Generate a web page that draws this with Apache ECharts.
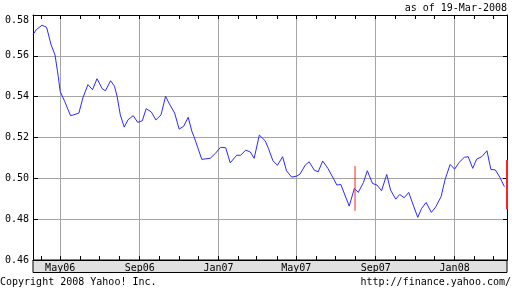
<!DOCTYPE html>
<html>
<head>
<meta charset="utf-8">
<style>html,body{margin:0;padding:0;background:#fff;}#c{width:512px;height:288px;}</style>
<script src="https://cdn.jsdelivr.net/npm/echarts@6/dist/echarts.min.js"></script>
</head>
<body>
<div id="c"></div>
<script>
const dates = ['2006-03-20','2006-03-25','2006-04-03','2006-04-10','2006-04-17','2006-04-23','2006-04-28','2006-05-01','2006-05-08','2006-05-17','2006-05-22','2006-05-30','2006-06-05','2006-06-13','2006-06-20','2006-06-27','2006-07-05','2006-07-10','2006-07-18','2006-07-24','2006-07-28','2006-08-02','2006-08-08','2006-08-14','2006-08-22','2006-08-29','2006-09-05','2006-09-11','2006-09-19','2006-09-26','2006-10-04','2006-10-11','2006-10-17','2006-10-25','2006-11-01','2006-11-08','2006-11-15','2006-11-21','2006-11-24','2006-12-06','2006-12-19','2006-12-27','2007-01-04','2007-01-12','2007-01-19','2007-01-29','2007-02-04','2007-02-12','2007-02-19','2007-02-25','2007-03-05','2007-03-14','2007-03-19','2007-03-26','2007-04-02','2007-04-10','2007-04-16','2007-04-24','2007-05-02','2007-05-07','2007-05-15','2007-05-21','2007-05-29','2007-06-04','2007-06-11','2007-06-19','2007-07-03','2007-07-09','2007-07-22','2007-07-30','2007-08-05','2007-08-13','2007-08-19','2007-08-27','2007-09-03','2007-09-10','2007-09-18','2007-09-24','2007-10-02','2007-10-08','2007-10-15','2007-10-22','2007-10-29','2007-11-05','2007-11-11','2007-11-18','2007-11-26','2007-12-03','2007-12-11','2007-12-17','2007-12-25','2008-01-01','2008-01-08','2008-01-16','2008-01-22','2008-01-29','2008-02-04','2008-02-12','2008-02-20','2008-02-26','2008-03-04','2008-03-11','2008-03-18'];
const rates = [0.5704,0.5728,0.5750,0.5740,0.5654,0.5605,0.5500,0.5426,0.5377,0.5307,0.5311,0.5320,0.5393,0.5459,0.5434,0.5488,0.5439,0.5429,0.5478,0.5451,0.5402,0.5311,0.5251,0.5287,0.5307,0.5274,0.5282,0.5341,0.5325,0.5286,0.5311,0.5402,0.5364,0.5320,0.5241,0.5255,0.5299,0.5227,0.5204,0.5093,0.5098,0.5122,0.5152,0.5150,0.5076,0.5113,0.5113,0.5138,0.5129,0.5098,0.5212,0.5184,0.5147,0.5086,0.5064,0.5106,0.5037,0.5006,0.5011,0.5021,0.5065,0.5081,0.5040,0.5032,0.5085,0.5049,0.4967,0.4970,0.4864,0.4951,0.4931,0.4980,0.5037,0.4975,0.4967,0.4939,0.5019,0.4942,0.4898,0.4921,0.4905,0.4931,0.4869,0.4809,0.4853,0.4882,0.4833,0.4861,0.4910,0.4991,0.5068,0.5045,0.5078,0.5103,0.5106,0.5049,0.5094,0.5106,0.5135,0.5044,0.5041,0.5005,0.4959];
const spikeDates = ['2007-07-31','2007-07-31'];
const spikeValues = [0.5060, 0.4841];
const lastDates = ['2008-03-22','2008-03-22'];
const lastValues = [0.5090, 0.4849];
const tickDates = ['2006-05-01','2006-09-01','2007-01-01','2007-05-01','2007-09-01','2008-01-01'];
const tickLabels = ['May06','Sep06','Jan07','May07','Sep07','Jan08'];
const axisStart = '2006-03-20';
const axisEnd = '2008-03-22';

const T = s => Date.parse(s);
const monthTicks = [];
for (let y = 2006, m = 3; y < 2008 || m <= 2; ) {
  monthTicks.push(Date.UTC(y, m, 1));
  m++; if (m > 11) { m = 0; y++; }
}
const labelMap = {};
tickDates.forEach((d, i) => { labelMap[T(d)] = tickLabels[i]; });
const font = 'DejaVu Sans Mono';
const xMin = T(axisStart), xMax = T(axisEnd);
const txt = {fontFamily: font, fontSize: 10, fontWeight: 'normal', color: '#000'};

const chart = echarts.init(document.getElementById('c'), null, {renderer: 'canvas'});
chart.setOption({
  animation: false,
  backgroundColor: '#fff',
  title: [
    {text: 'as of 19-Mar-2008', right: 5, top: 3, padding: 0, textStyle: txt},
    {text: 'Copyright 2008 Yahoo! Inc.', left: 0, top: 277, padding: 0, textStyle: txt},
    {text: 'http://finance.yahoo.com/', right: 1, top: 277, padding: 0, textStyle: txt}
  ],
  graphic: [{
    type: 'rect', z: -10,
    shape: {x: 33, y: 260, width: 474, height: 12.5},
    style: {fill: '#e0e0e0', stroke: '#000', lineWidth: 1}
  }],
  grid: {left: 33, right: 5, top: 15, bottom: 28},
  xAxis: [
    {
      type: 'value', min: xMin, max: xMax, position: 'bottom',
      axisLine: {show: true, lineStyle: {color: '#000', width: 1}},
      axisTick: {show: true, inside: true, length: 4, customValues: tickDates.map(T), lineStyle: {color: '#000'}},
      axisLabel: {show: true, customValues: tickDates.map(T), margin: 3, fontFamily: font, fontSize: 10, color: '#000',
        formatter: v => labelMap[v] || ''},
      splitLine: {show: true, lineStyle: {color: '#a5a5a5', width: 1}}
    },
    {
      type: 'value', min: xMin, max: xMax, position: 'bottom',
      axisLine: {show: false},
      axisTick: {show: true, inside: true, length: 4, customValues: monthTicks, lineStyle: {color: '#000'}},
      axisLabel: {show: false},
      splitLine: {show: false}
    },
    {
      type: 'value', min: xMin, max: xMax, position: 'top',
      axisLine: {show: true, lineStyle: {color: '#000', width: 1}},
      axisTick: {show: true, inside: true, length: 4, customValues: monthTicks, lineStyle: {color: '#000'}},
      axisLabel: {show: false},
      splitLine: {show: false}
    }
  ],
  yAxis: [
    {
      type: 'value', min: 0.46, max: 0.58, interval: 0.02, position: 'left',
      axisLine: {show: true, lineStyle: {color: '#000', width: 1}},
      axisTick: {show: true, inside: true, length: 5, lineStyle: {color: '#000'}},
      axisLabel: {margin: 4, fontFamily: font, fontSize: 10, color: '#000',
        verticalAlignMaxLabel: 'top',
        formatter: v => v.toFixed(2)},
      splitLine: {show: true, lineStyle: {color: '#a5a5a5', width: 1}}
    },
    {
      type: 'value', min: 0.46, max: 0.58, interval: 0.02, position: 'right',
      axisLine: {show: true, lineStyle: {color: '#000', width: 1}},
      axisTick: {show: true, inside: true, length: 4, lineStyle: {color: '#000'}},
      axisLabel: {show: false},
      splitLine: {show: false}
    }
  ],
  series: [
    {
      type: 'line', xAxisIndex: 0, yAxisIndex: 0, showSymbol: false, symbol: 'none',
      data: dates.map((d, i) => [T(d), rates[i]]),
      lineStyle: {color: '#2b2bff', width: 1}, z: 5
    },
    {
      type: 'line', xAxisIndex: 0, yAxisIndex: 0, showSymbol: false, symbol: 'none',
      data: spikeDates.map((d, i) => [T(d), spikeValues[i]]),
      lineStyle: {color: '#ff2020', width: 1}, z: 6
    },
    {
      type: 'line', xAxisIndex: 0, yAxisIndex: 0, showSymbol: false, symbol: 'none', clip: false,
      data: lastDates.map((d, i) => [T(d), lastValues[i]]),
      lineStyle: {color: '#ff2020', width: 2}, z: 6
    }
  ]
});
</script>
</body>
</html>
